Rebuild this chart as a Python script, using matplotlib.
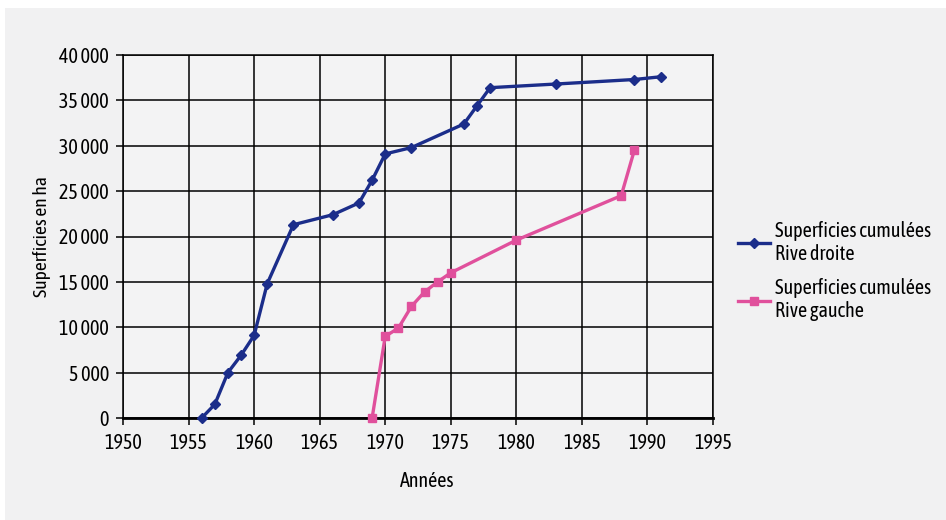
import matplotlib
matplotlib.use("Agg")
import matplotlib.pyplot as plt
from matplotlib.patches import Rectangle
from matplotlib.ticker import FuncFormatter

plt.rcParams['font.family'] = ['Asap Condensed', 'Archivo Narrow', 'DejaVu Sans']

# Cumulated irrigated areas (ha) per year
droite_years = [1956, 1957, 1958, 1959, 1960, 1961, 1963, 1966, 1968, 1969, 1970,
                1972, 1976, 1977, 1978, 1983, 1989, 1991]
droite_ha = [0, 1500, 5000, 6900, 9100, 14800, 21300, 22400, 23700, 26200, 29100,
             29800, 32400, 34400, 36400, 36800, 37300, 37600]

gauche_years = [1969, 1970, 1971, 1972, 1973, 1974, 1975, 1980, 1988, 1989]
gauche_ha = [0, 9000, 9900, 12300, 13900, 15000, 16000, 19600, 24500, 29500]

x_ticks = list(range(1950, 1996, 5))
y_ticks = list(range(0, 40001, 5000))

FS = 14.5

fig = plt.figure(figsize=(9.46, 5.2), dpi=100, facecolor='white')
# light paper-like background, thin white border on top and left
fig.patches.append(Rectangle((5 / 946, 0), 1, 1 - 8 / 520, transform=fig.transFigure,
                             facecolor='#f1f1f2', edgecolor='none', zorder=-10))

ax = fig.add_axes([123 / 946, 1 - 418 / 520, (713 - 123) / 946, (418 - 55) / 520])
ax.set_facecolor('#f3f3f4')

ax.plot(droite_years, droite_ha, color='#1b2d8a', lw=2.4, marker='D', ms=5,
        label='Superficies cumulées\nRive droite', zorder=3, clip_on=False)
ax.plot(gauche_years, gauche_ha, color='#e0509c', lw=2.4, marker='s', ms=6,
        label='Superficies cumulées\nRive gauche', zorder=3, clip_on=False)

ax.set_xlim(1950, 1995)
ax.set_ylim(0, 40000)
ax.set_xticks(x_ticks)
ax.set_yticks(y_ticks)
ax.yaxis.set_major_formatter(FuncFormatter(lambda v, p: f"{int(v):,}".replace(',', ' ')))
ax.grid(True, color='black', lw=1.1)
ax.set_axisbelow(True)
for s in ax.spines.values():
    s.set_color('black')
    s.set_linewidth(1.1)
ax.spines['bottom'].set_linewidth(2)
ax.tick_params(axis='both', direction='out', length=5, width=1.1, labelsize=FS,
               colors='black')
ax.tick_params(axis='x', pad=6)
ax.tick_params(axis='y', pad=5)

ax.set_xlabel('Années', fontsize=FS, labelpad=13)
ax.xaxis.label.set_x(0.515)
ax.set_ylabel('Superficies en ha', fontsize=14, labelpad=6)

fig.legend(loc='center left', bbox_to_anchor=(728 / 946, 1 - 271 / 520), frameon=False,
           fontsize=FS, borderpad=0, handlelength=1.6, handletextpad=0.25,
           labelspacing=0.7)

fig.savefig('out.png', dpi=100, facecolor=fig.get_facecolor())
